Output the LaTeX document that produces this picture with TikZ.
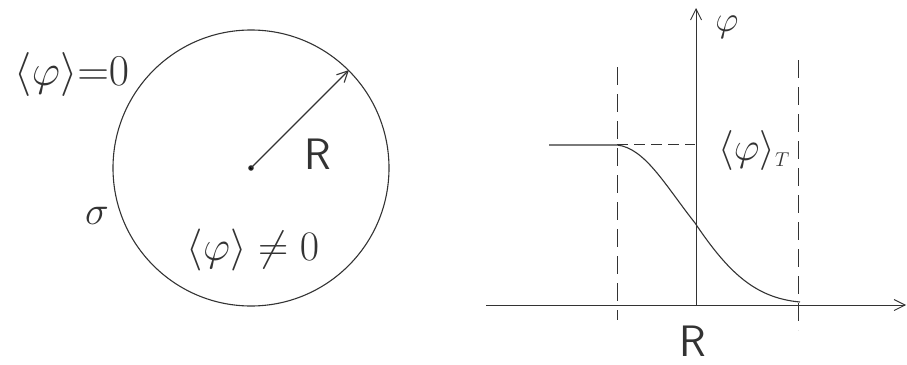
\documentclass[tikz,border=0pt]{standalone}
\usepackage{fix-cm}
\usetikzlibrary{arrows.meta}
\definecolor{ink}{HTML}{333333}
\tikzset{
  ink/.style={draw=ink, line width=1.1pt},
  lbl/.style={text=ink, inner sep=0pt},
  dsh/.style={ink, line width=0.9pt, dash pattern=on 18pt off 9pt},
  dshh/.style={ink, line width=0.9pt, dash pattern=on 11pt off 6pt},
  barb/.style={-{Straight Barb[length=11pt,width=11pt]}},
}
\begin{document}
\begin{tikzpicture}[x=1pt,y=-1pt]
\useasboundingbox (0,0) rectangle (907,364);
% left: disk
\node[ink, circle, minimum size=276pt, inner sep=0pt] (disk) at (251,168) {};
\fill[ink] (251,168) circle (2.2pt);
\coordinate (c) at (251,168);
\draw[ink, barb] (c) -- (disk.45);
\node[lbl, font=\fontsize{44}{46}\selectfont] (eqz) at (72,74) {$\langle\varphi\rangle{=}0$};
\node[lbl, font=\fontsize{44}{46}\selectfont\sffamily] (R1) at (318,154) {R};
\node[lbl, font=\fontsize{40}{42}\selectfont] (sig) at (97,216) {$\sigma$};
\node[lbl, font=\fontsize{42}{44}\selectfont] (neq) at (253,250) {$\langle\varphi\rangle\neq0$};
% right: profile
\coordinate (xl) at (486,305);
\coordinate (xr) at (906,305);
\coordinate (o) at (696,305);
\coordinate (yt) at (696,8);
\draw[ink, line width=0.9pt, barb] (xl) -- (xr);
\draw[ink, line width=0.9pt, barb] (o) -- (yt);
\coordinate (d1t) at (617,67);
\coordinate (d1b) at (617,320);
\coordinate (d2t) at (798,60);
\coordinate (d2b) at (798,330);
\draw[dsh] (d1t) -- (d1b);
\draw[dsh] (d2t) -- (d2b);
\coordinate (h1) at (617,144);
\coordinate (h2) at (695,144);
\draw[dshh] (h1) -- (h2);
\coordinate (c0) at (549,145);
\coordinate (c1) at (617,145);
\coordinate (c2) at (695,223);
\coordinate (c3) at (800,302);
\draw[ink] (c0) -- (c1) .. controls (645,148) and (665,185) .. (c2)
  .. controls (728,272) and (755,298) .. (c3);
\node[lbl, font=\fontsize{36}{38}\selectfont] (phi) at (727,27) {$\varphi$};
\node[lbl, font=\fontsize{40}{42}\selectfont] (phiT) at (754,150) {$\langle\varphi\rangle_{\scriptscriptstyle T}$};
\node[lbl, font=\fontsize{44}{46}\selectfont\sffamily] (R2) at (693,341) {R};
\end{tikzpicture}
\end{document}
